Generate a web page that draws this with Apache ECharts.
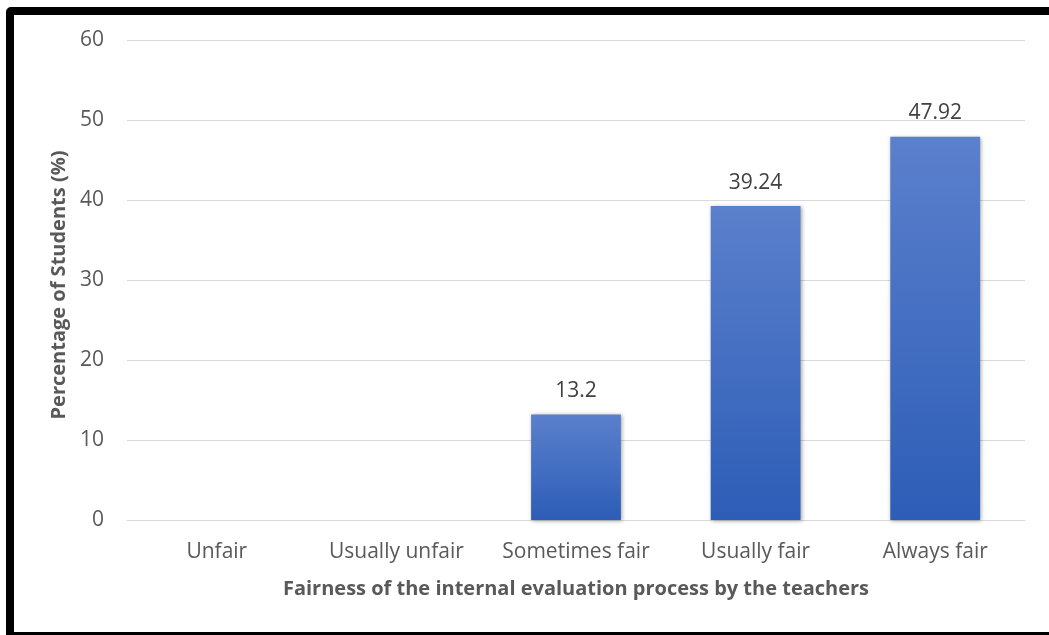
<!DOCTYPE html>
<html>
<head>
<meta charset="utf-8">
<script src="https://cdn.jsdelivr.net/npm/echarts@6/dist/echarts.min.js"></script>
<style>
html,body{margin:0;padding:0;background:#fff;overflow:hidden;}
#frame{position:absolute;left:6px;top:7px;width:1060px;height:617px;border:8px solid #000;border-radius:5px;}
#chart{position:absolute;left:0;top:0;width:1049px;height:635px;}
</style>
</head>
<body>
<div id="frame"></div>
<div id="chart"></div>
<script>
const categories = ['Unfair', 'Usually unfair', 'Sometimes fair', 'Usually fair', 'Always fair'];
const percentages = [0, 0, 13.2, 39.24, 47.92];
const yTicks = [0, 10, 20, 30, 40, 50, 60];

const chart = echarts.init(document.getElementById('chart'));
const FONT = 'Open Sans';
chart.setOption({
  animation: false,
  grid: {left: 127, right: 24, top: 40, bottom: 115},
  xAxis: {
    type: 'category',
    data: categories,
    name: 'Fairness of the internal evaluation process by the teachers',
    nameLocation: 'middle',
    nameGap: 59,
    nameTextStyle: {fontFamily: FONT, fontSize: 20, fontWeight: 'bold', color: '#595959'},
    axisLine: {lineStyle: {color: '#d9d9d9', width: 1}},
    axisTick: {show: false},
    axisLabel: {interval: 0, hideOverlap: false, fontFamily: FONT, fontSize: 21, color: '#595959', margin: 22}
  },
  yAxis: {
    type: 'value',
    min: yTicks[0],
    max: yTicks[yTicks.length - 1],
    interval: 10,
    name: 'Percentage of Students (%)',
    nameLocation: 'middle',
    nameGap: 57,
    nameTextStyle: {fontFamily: FONT, fontSize: 20, fontWeight: 'bold', color: '#595959', padding: [0, 10, 0, 0]},
    axisLine: {show: false},
    axisTick: {show: false},
    splitLine: {lineStyle: {color: '#d9d9d9', width: 1}},
    axisLabel: {fontFamily: FONT, fontSize: 21, color: '#595959', margin: 23}
  },
  series: [{
    type: 'bar',
    data: percentages,
    barWidth: '50%',
    itemStyle: {
      color: new echarts.graphic.LinearGradient(0, 0, 0, 1, [
        {offset: 0, color: '#5b80cc'},
        {offset: 1, color: '#2d5db7'}
      ]),
      shadowBlur: 4,
      shadowColor: 'rgba(0,0,0,0.35)',
      shadowOffsetX: 1,
      shadowOffsetY: 1
    },
    label: {
      show: true,
      position: 'top',
      distance: 13,
      fontFamily: FONT,
      fontSize: 21,
      color: '#404040',
      formatter: p => p.value === 0 ? '' : String(p.value)
    }
  }]
});
</script>
</body>
</html>
